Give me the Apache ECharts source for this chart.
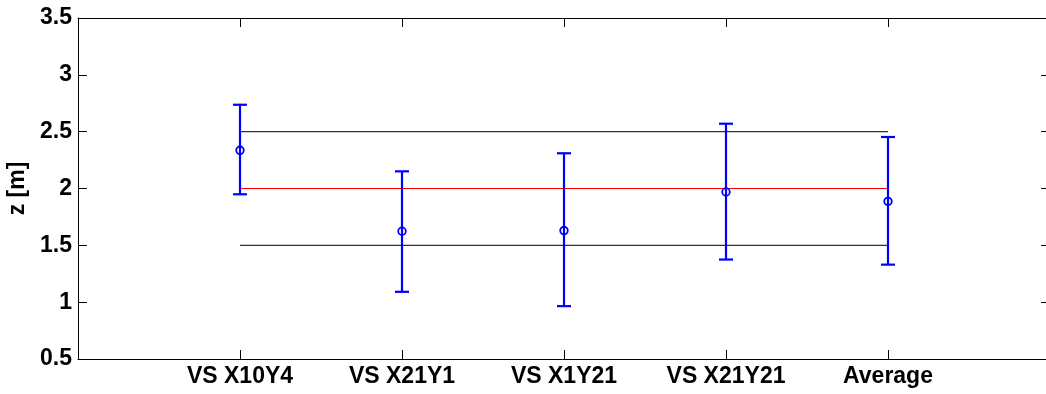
<!DOCTYPE html>
<html>
<head>
<meta charset="utf-8">
<script src="https://cdn.jsdelivr.net/npm/echarts@6/dist/echarts.min.js"></script>
<style>
html,body{margin:0;padding:0;background:#fff;}
#chart{width:1046px;height:394px;}
</style>
</head>
<body>
<div id="chart"></div>
<script>
var categories = ['VS X10Y4', 'VS X21Y1', 'VS X1Y21', 'VS X21Y21', 'Average'];
var means = [2.336, 1.624, 1.630, 1.969, 1.887];
var upper = [2.737, 2.151, 2.31, 2.570, 2.453];
var lower = [1.949, 1.091, 0.965, 1.375, 1.33];
var refUpper = 2.5;
var target = 2.0;
var refLower = 1.5;
var yTicks = [0.5, 1, 1.5, 2, 2.5, 3, 3.5];

var FONT = '"Liberation Sans", Arial, Helvetica, sans-serif';
var errData = categories.map(function (c, i) { return [i + 1, lower[i], upper[i], means[i]]; });
var first = 1, last = categories.length;

var chart = echarts.init(document.getElementById('chart'), null, {renderer: 'canvas'});
var axisCommon = {
  axisLine: {show: true, onZero: false, lineStyle: {color: '#000', width: 1}},
  axisTick: {show: true, inside: true, length: 9, lineStyle: {color: '#000', width: 1}},
  splitLine: {show: false}
};
chart.setOption({
  animation: false,
  backgroundColor: '#fff',
  grid: {left: 78, top: 18, width: 972, height: 341, containLabel: false, outerBoundsMode: 'none'},
  xAxis: [
    Object.assign({
      type: 'value', min: 0, max: categories.length + 1, interval: 1, position: 'bottom',
      axisLabel: {
        show: true, margin: 6, color: '#000', fontFamily: FONT, fontWeight: 'bold', fontSize: 23,
        formatter: function (v) { return categories[v - 1] || ''; }
      }
    }, axisCommon),
    Object.assign({
      type: 'value', min: 0, max: categories.length + 1, interval: 1, position: 'top',
      axisLabel: {show: false}
    }, axisCommon)
  ],
  yAxis: [
    Object.assign({
      type: 'value', min: yTicks[0], max: yTicks[yTicks.length - 1], interval: 0.5, position: 'left',
      name: 'z [m]', nameLocation: 'middle', nameGap: 46, nameRotate: 90,
      nameTextStyle: {color: '#000', fontFamily: FONT, fontWeight: 'bold', fontSize: 23},
      axisLabel: {show: true, margin: 6, color: '#000', fontFamily: FONT, fontWeight: 'bold', fontSize: 23}
    }, axisCommon),
    Object.assign({
      type: 'value', min: yTicks[0], max: yTicks[yTicks.length - 1], interval: 0.5, position: 'right',
      axisLabel: {show: false}
    }, axisCommon)
  ],
  series: [
    {
      type: 'line', data: [[first, refUpper], [last, refUpper]], symbol: 'none',
      lineStyle: {color: '#333', width: 1.2}, silent: true, z: 1
    },
    {
      type: 'line', data: [[first, target], [last, target]], symbol: 'none',
      lineStyle: {color: '#ff0000', width: 1.2}, silent: true, z: 1
    },
    {
      type: 'line', data: [[first, refLower], [last, refLower]], symbol: 'none',
      lineStyle: {color: '#333', width: 1.2}, silent: true, z: 1
    },
    {
      type: 'custom', data: errData, z: 5,
      renderItem: function (params, api) {
        var x = api.value(0);
        var lo = api.coord([x, api.value(1)]);
        var hi = api.coord([x, api.value(2)]);
        var mid = api.coord([x, api.value(3)]);
        var hw = 7;
        var st = {stroke: '#0000ff', lineWidth: 2.2, fill: null};
        return {
          type: 'group',
          children: [
            {type: 'line', shape: {x1: lo[0], y1: lo[1], x2: hi[0], y2: hi[1]}, style: st},
            {type: 'line', shape: {x1: hi[0] - hw, y1: hi[1], x2: hi[0] + hw, y2: hi[1]}, style: st},
            {type: 'line', shape: {x1: lo[0] - hw, y1: lo[1], x2: lo[0] + hw, y2: lo[1]}, style: st},
            {type: 'circle', shape: {cx: mid[0], cy: mid[1], r: 3.8}, style: {stroke: '#0000ff', lineWidth: 1.8, fill: null}}
          ]
        };
      }
    }
  ]
});
</script>
</body>
</html>
